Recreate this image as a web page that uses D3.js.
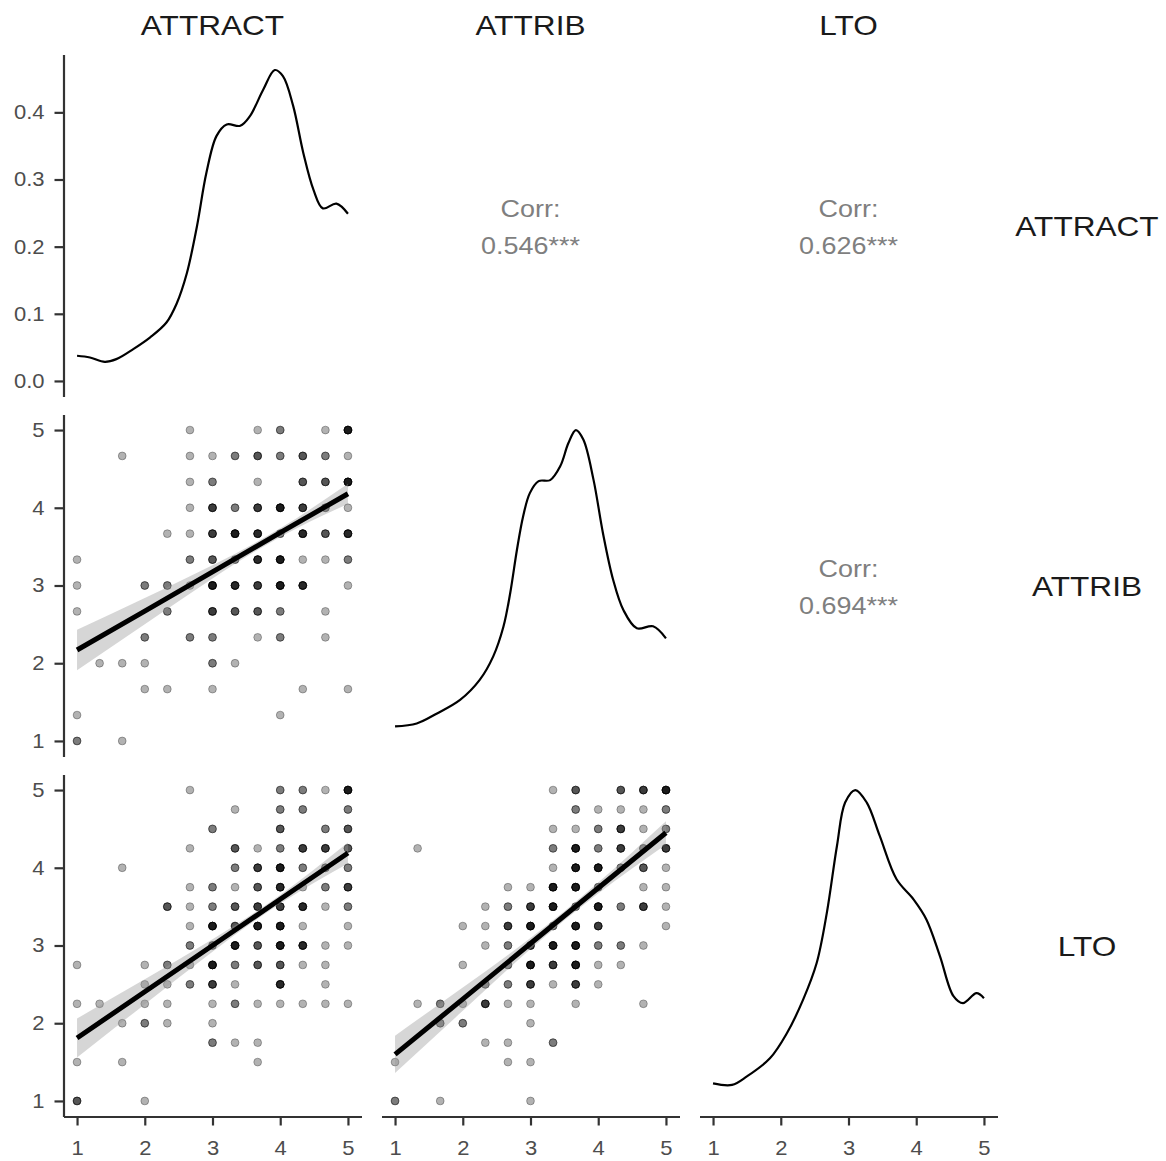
<!DOCTYPE html>
<html>
<head>
<meta charset="utf-8">
<script src="https://cdn.jsdelivr.net/npm/d3@7"></script>
<style>
  html, body { margin: 0; padding: 0; background: #fff; }
  svg { display: block; }
</style>
</head>
<body>
<svg id="chart" width="1166" height="1161"></svg>
<script>
// ---------------- DATA ----------------
const variables = ["ATTRACT", "ATTRIB", "LTO"];
const axisTicks = [1, 2, 3, 4, 5];
const densityTicks = [0.0, 0.1, 0.2, 0.3, 0.4];
const densityTickLabels = ["0.0", "0.1", "0.2", "0.3", "0.4"];

// correlations (upper panels)
const corrLabels = ["Corr:", "Corr:", "Corr:"];
const corrValues = ["0.546***", "0.626***", "0.694***"];

// density curves (diagonal): [x, density]
const densATTRACT = [[1.0,0.0375],[1.19,0.035],[1.41,0.0285],[1.58,0.0325],[1.83,0.0475],[2.08,0.065],[2.32,0.087],[2.47,0.115],[2.62,0.16],[2.77,0.23],[2.91,0.31],[3.06,0.365],[3.21,0.382],[3.41,0.38],[3.55,0.394],[3.75,0.434],[3.92,0.463],[4.04,0.454],[4.19,0.41],[4.34,0.34],[4.49,0.285],[4.63,0.257],[4.83,0.264],[5.0,0.249]];
const densATTRIB = [[1.0,0.029],[1.32,0.035],[1.62,0.055],[1.96,0.082],[2.25,0.122],[2.45,0.169],[2.60,0.228],[2.70,0.295],[2.80,0.382],[2.89,0.448],[2.99,0.495],[3.12,0.519],[3.29,0.521],[3.44,0.549],[3.56,0.595],[3.67,0.621],[3.78,0.602],[3.93,0.522],[4.07,0.415],[4.22,0.322],[4.37,0.262],[4.57,0.225],[4.81,0.229],[5.0,0.205]];
const densLTO = [[1.0,0.035],[1.28,0.032],[1.50,0.049],[1.84,0.085],[2.09,0.135],[2.33,0.202],[2.53,0.275],[2.68,0.375],[2.83,0.509],[2.95,0.595],[3.10,0.62],[3.27,0.595],[3.46,0.529],[3.71,0.442],[3.96,0.402],[4.15,0.362],[4.35,0.289],[4.55,0.209],[4.69,0.195],[4.89,0.215],[5.0,0.205]];

// scatter points: [x, y, number of overlapping observations]
const ptsATTRACT_ATTRIB = [
  [2.667,5,1],[3.667,5,1],[4,5,2],[4.667,5,1],[5,5,6],
  [1.667,4.667,1],[2.667,4.667,1],[3,4.667,1],[3.333,4.667,2],[3.667,4.667,3],[4,4.667,2],[4.333,4.667,3],[4.667,4.667,2],[5,4.667,1],
  [2.667,4.333,1],[3,4.333,2],[3.667,4.333,1],[4.333,4.333,3],[4.667,4.333,3],[5,4.333,6],
  [2.667,4,1],[3,4,4],[3.333,4,2],[3.667,4,4],[4,4,6],[4.333,4,4],[4.667,4,2],[5,4,1],
  [2.333,3.667,1],[2.667,3.667,1],[3,3.667,4],[3.333,3.667,6],[3.667,3.667,5],[4,3.667,2],[4.333,3.667,5],[4.667,3.667,3],[5,3.667,5],
  [1,3.333,1],[2.667,3.333,2],[3,3.333,3],[3.333,3.333,2],[3.667,3.333,5],[4,3.333,6],[4.333,3.333,1],[4.667,3.333,1],[5,3.333,2],
  [1,3,1],[2,3,2],[2.333,3,2],[2.667,3,1],[3,3,6],[3.333,3,5],[3.667,3,4],[4,3,6],[4.333,3,5],[5,3,1],
  [1,2.667,1],[2.333,2.667,2],[3,2.667,4],[3.333,2.667,3],[3.667,2.667,3],[4,2.667,2],[4.667,2.667,1],
  [2,2.333,2],[2.667,2.333,2],[3,2.333,2],[3.667,2.333,1],[4,2.333,2],[4.667,2.333,1],
  [1.333,2,1],[1.667,2,1],[2,2,1],[3,2,2],[3.333,2,1],
  [2,1.667,1],[2.333,1.667,1],[3,1.667,1],[4.333,1.667,1],[5,1.667,1],
  [1,1.333,1],[4,1.333,1],
  [1,1,2],[1.667,1,1]
];
const ptsATTRACT_LTO = [
  [2.667,5,1],[4,5,2],[4.333,5,2],[4.667,5,1],[5,5,6],
  [3.333,4.75,1],[4,4.75,2],[4.333,4.75,2],[5,4.75,2],
  [3,4.5,2],[4,4.5,3],[4.667,4.5,2],[5,4.5,3],
  [2.667,4.25,1],[3.333,4.25,3],[3.667,4.25,1],[4,4.25,2],[4.333,4.25,4],[4.667,4.25,4],[5,4.25,3],
  [1.667,4,1],[3.333,4,2],[3.667,4,4],[4,4,6],[4.333,4,2],[4.667,4,2],[5,4,2],
  [2.667,3.75,1],[3,3.75,2],[3.333,3.75,1],[3.667,3.75,3],[4,3.75,5],[4.333,3.75,1],[4.667,3.75,2],[5,3.75,4],
  [2.333,3.5,3],[2.667,3.5,1],[3,3.5,2],[3.333,3.5,3],[3.667,3.5,4],[4,3.5,4],[4.333,3.5,5],[4.667,3.5,1],[5,3.5,2],
  [2.667,3.25,1],[3,3.25,6],[3.333,3.25,3],[3.667,3.25,6],[4,3.25,6],[4.333,3.25,1],[5,3.25,1],
  [2.667,3,2],[3,3,2],[3.333,3,6],[3.667,3,3],[4,3,6],[4.333,3,5],[4.667,3,1],[5,3,1],
  [1,2.75,1],[2,2.75,1],[2.333,2.75,2],[2.667,2.75,1],[3,2.75,6],[3.333,2.75,2],[3.667,2.75,3],[4,2.75,3],[4.333,2.75,1],[4.667,2.75,1],
  [2,2.5,1],[2.333,2.5,1],[2.667,2.5,2],[3,2.5,4],[3.333,2.5,1],[4,2.5,5],[4.667,2.5,1],
  [1,2.25,1],[1.333,2.25,1],[2,2.25,1],[2.333,2.25,1],[3,2.25,1],[3.333,2.25,2],[3.667,2.25,1],[4,2.25,1],[4.333,2.25,1],[4.667,2.25,1],[5,2.25,1],
  [1.667,2,1],[2,2,2],[2.333,2,1],[3,2,1],
  [3,1.75,2],[3.333,1.75,1],[3.667,1.75,1],
  [1,1.5,1],[1.667,1.5,1],[3.667,1.5,1],
  [1,1,3],[2,1,1]
];
const ptsATTRIB_LTO = [
  [3.333,5,1],[3.667,5,3],[4.333,5,3],[4.667,5,4],[5,5,6],
  [3.667,4.75,2],[4,4.75,1],[4.333,4.75,1],[4.667,4.75,1],[5,4.75,2],
  [3.333,4.5,1],[3.667,4.5,1],[4,4.5,2],[4.333,4.5,4],[4.667,4.5,1],[5,4.5,2],
  [1.333,4.25,1],[3.333,4.25,2],[3.667,4.25,6],[4,4.25,2],[4.333,4.25,4],[4.667,4.25,2],[5,4.25,4],
  [3.333,4,1],[3.667,4,6],[4,4,6],[4.333,4,2],[4.667,4,3],[5,4,1],
  [2.667,3.75,1],[3,3.75,1],[3.333,3.75,6],[3.667,3.75,6],[4,3.75,2],[4.667,3.75,1],[5,3.75,1],
  [2.333,3.5,1],[2.667,3.5,2],[3,3.5,4],[3.333,3.5,6],[3.667,3.5,2],[4,3.5,6],[4.333,3.5,2],[4.667,3.5,4],[5,3.5,1],
  [2,3.25,1],[2.333,3.25,1],[2.667,3.25,4],[3,3.25,6],[3.333,3.25,2],[3.667,3.25,6],[4,3.25,4],[5,3.25,1],
  [2.333,3,1],[2.667,3,2],[3,3,4],[3.333,3,6],[3.667,3,6],[4,3,2],[4.333,3,2],[4.667,3,1],
  [2,2.75,1],[2.667,2.75,2],[3,2.75,6],[3.333,2.75,4],[3.667,2.75,6],[4,2.75,1],[4.333,2.75,1],
  [2.333,2.5,2],[2.667,2.5,2],[3,2.5,4],[3.333,2.5,1],[3.667,2.5,4],[4,2.5,1],
  [1.333,2.25,1],[1.667,2.25,2],[2,2.25,1],[2.333,2.25,4],[2.667,2.25,1],[3,2.25,1],[3.667,2.25,1],[4.667,2.25,1],
  [1.667,2,2],[2,2,2],[3,2,1],
  [2.333,1.75,1],[2.667,1.75,1],[3.333,1.75,2],
  [1,1.5,1],[2.667,1.5,1],[3,1.5,1],
  [1,1,2],[1.667,1,1],[3,1,1]
];

// linear fits with confidence band: [x, fit, lower, upper]
const fitATTRACT_ATTRIB = [[1,2.17,1.91,2.43],[2,2.67,2.50,2.84],[3,3.175,3.09,3.26],[4,3.68,3.625,3.735],[5,4.18,4.05,4.31]];
const fitATTRACT_LTO   = [[1,1.81,1.56,2.06],[2,2.405,2.245,2.565],[3,3.0,2.92,3.08],[4,3.595,3.54,3.65],[5,4.19,4.055,4.325]];
const fitATTRIB_LTO    = [[1,1.60,1.36,1.84],[2,2.31,2.16,2.46],[3,3.025,2.955,3.095],[4,3.74,3.67,3.81],[5,4.45,4.30,4.60]];

// ---------------- LAYOUT ----------------
const svg = d3.select("#chart");
const FONT = "'Liberation Sans', Arial, Helvetica, sans-serif";
const panelW = 298, panelH = 342;
const colLeft = [63.5, 381.5, 699.5];
const rowTop = [54.5, 414.5, 774.5];
const AXIS = "#333333";

function xScale(c) { return d3.scaleLinear().domain([0.8, 5.2]).range([colLeft[c], colLeft[c] + panelW]); }
function yScale(r) { return d3.scaleLinear().domain([0.8, 5.2]).range([rowTop[r] + panelH, rowTop[r]]); }
function densScale(r, data) {
  const m = d3.max(data, d => d[1]);
  return d3.scaleLinear().domain([-0.05 * m, 1.05 * m]).range([rowTop[r] + panelH, rowTop[r]]);
}

// text with horizontal stretch around its anchor point
function stretchedText(x, y, str, size, fill, sx) {
  return svg.append("text")
    .attr("transform", `translate(${x},${y}) scale(${sx},1)`)
    .attr("text-anchor", "middle").attr("font-family", FONT).attr("font-size", size)
    .attr("fill", fill).text(str);
}

const diag = [densATTRACT, densATTRIB, densLTO];
const lower = {
  "1-0": {pts: ptsATTRACT_ATTRIB, fit: fitATTRACT_ATTRIB},
  "2-0": {pts: ptsATTRACT_LTO, fit: fitATTRACT_LTO},
  "2-1": {pts: ptsATTRIB_LTO, fit: fitATTRIB_LTO}
};
const upper = [
  {r: 0, c: 1, label: corrLabels[0], value: corrValues[0]},
  {r: 0, c: 2, label: corrLabels[1], value: corrValues[1]},
  {r: 1, c: 2, label: corrLabels[2], value: corrValues[2]}
];

// ---- diagonal densities
diag.forEach((data, i) => {
  const x = xScale(i), y = densScale(i, data);
  svg.append("path")
    .datum(data)
    .attr("fill", "none")
    .attr("stroke", "#000")
    .attr("stroke-width", 2.2)
    .attr("d", d3.line().x(d => x(d[0])).y(d => y(d[1])).curve(d3.curveCatmullRom.alpha(0.5)));
});

// ---- lower scatter panels
Object.entries(lower).forEach(([key, obj]) => {
  const [r, c] = key.split("-").map(Number);
  const x = xScale(c), y = yScale(r);
  const g = svg.append("g");
  const expanded = [];
  obj.pts.forEach(p => { for (let k = 0; k < p[2]; k++) expanded.push(p); });
  g.selectAll("circle").data(expanded).join("circle")
    .attr("cx", d => x(d[0]))
    .attr("cy", d => y(d[1]))
    .attr("r", 3.9)
    .attr("fill", "#000")
    .attr("fill-opacity", 0.3)
    .attr("stroke", "#000")
    .attr("stroke-opacity", 0.3)
    .attr("stroke-width", 1);
  g.append("path")
    .datum(obj.fit)
    .attr("fill", "#999999")
    .attr("fill-opacity", 0.4)
    .attr("d", d3.area().x(d => x(d[0])).y0(d => y(d[2])).y1(d => y(d[3])).curve(d3.curveNatural));
  g.append("path")
    .datum(obj.fit)
    .attr("fill", "none")
    .attr("stroke", "#000")
    .attr("stroke-width", 5)
    .attr("d", d3.line().x(d => x(d[0])).y(d => y(d[1])));
});

// ---- upper correlation text
upper.forEach(u => {
  const cx = colLeft[u.c] + panelW / 2;
  const cy = rowTop[u.r] + panelH / 2;
  stretchedText(cx, cy - 9, u.label, 24.5, "#7f7f7f", 1.1);
  stretchedText(cx, cy + 28.5, u.value, 24.5, "#7f7f7f", 1.1);
});

// ---- axes
const TICK_SX = 1.1;
function styleAxis(g) {
  g.selectAll(".domain").attr("stroke", AXIS).attr("stroke-width", 2.2);
  g.selectAll(".tick line").attr("stroke", AXIS).attr("stroke-width", 2.2);
  g.selectAll(".tick text").attr("fill", "#4d4d4d").attr("font-family", FONT).attr("font-size", 20)
    .attr("transform", function() {
      const tx = +this.getAttribute("x") || 0;
      return `translate(${tx},0) scale(${TICK_SX},1) translate(${-tx},0)`;
    });
}
// left axes (col 0)
[0, 1, 2].forEach(r => {
  let scale, ticks, fmt;
  if (r === 0) {
    scale = densScale(0, densATTRACT); ticks = densityTicks; fmt = (d, i) => densityTickLabels[i];
  } else {
    scale = yScale(r); ticks = axisTicks; fmt = d => String(d);
  }
  const g = svg.append("g").attr("transform", `translate(${colLeft[0]},0)`)
    .call(d3.axisLeft(scale).tickValues(ticks).tickFormat(fmt).tickSize(9).tickSizeOuter(0).tickPadding(10));
  styleAxis(g);
});
// bottom axes (row 2)
[0, 1, 2].forEach(c => {
  const g = svg.append("g").attr("transform", `translate(0,${rowTop[2] + panelH})`)
    .call(d3.axisBottom(xScale(c)).tickValues(axisTicks).tickFormat(d => String(d)).tickSize(9).tickSizeOuter(0).tickPadding(15));
  styleAxis(g);
});

// ---- strip labels
variables.forEach((v, i) => {
  stretchedText(colLeft[i] + panelW / 2, 35, v, 27, "#1a1a1a", 1.17);
  stretchedText(1087, rowTop[i] + panelH / 2 + 10, v, 27, "#1a1a1a", 1.17);
});
</script>
</body>
</html>
